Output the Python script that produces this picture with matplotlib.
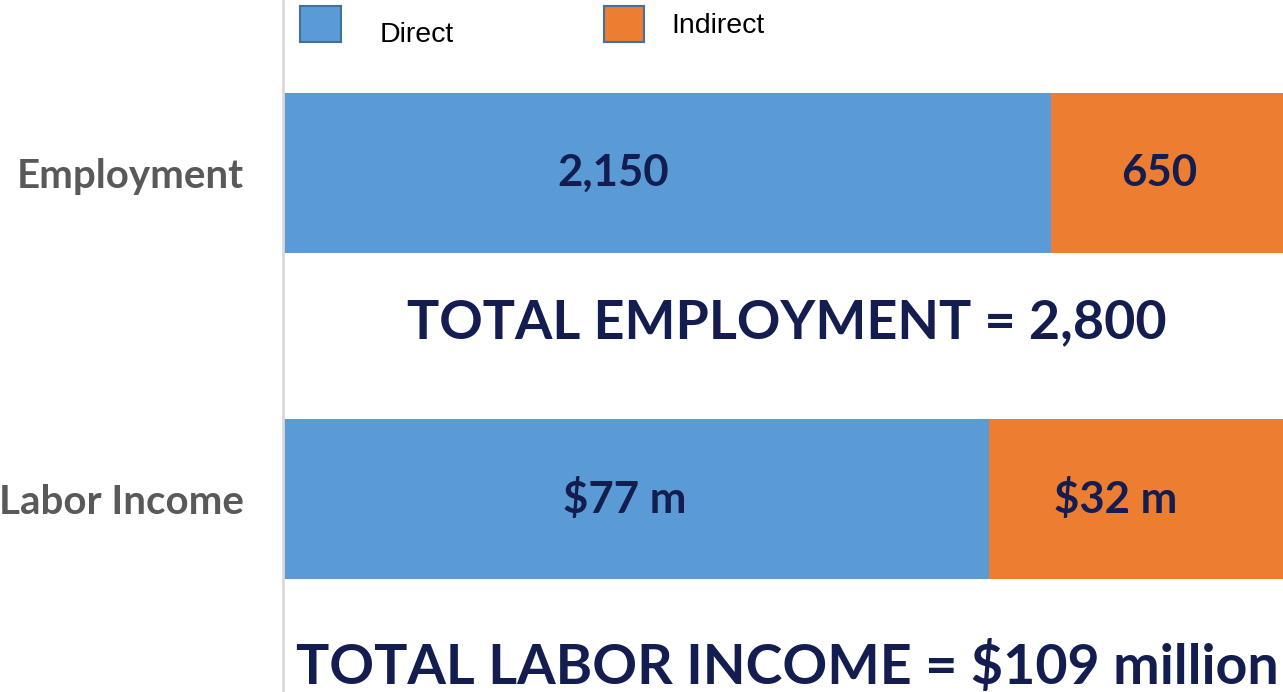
import numpy as np
import matplotlib.pyplot as plt
from matplotlib.patches import Patch

categories = ["Employment", "Labor Income"]
direct = [2150, 77]
indirect = [650, 32]
direct_labels = ["2,150", "$77 m"]
indirect_labels = ["650", "$32 m"]
totals_text = ["TOTAL EMPLOYMENT = 2,800", "TOTAL LABOR INCOME = $109 million"]

blue = "#5B9BD5"
orange = "#ED7D31"
navy = "#141D50"
gray = "#595959"
bold_font = "Lato"

direct = np.array(direct, dtype=float)
indirect = np.array(indirect, dtype=float)
tot = direct + indirect
d_share = direct / tot
i_share = indirect / tot

fig = plt.figure(figsize=(12.83, 6.92), dpi=100)
ax = fig.add_axes([283 / 1283, 0, 1 - 283 / 1283, 1])

y = np.arange(len(categories))
b1 = ax.barh(y, d_share, height=0.49, color=blue)
b2 = ax.barh(y, i_share, left=d_share, height=0.49, color=orange)

# value labels, sitting a little left of each segment's middle like the original
d_shift = [-0.054, -0.011]
i_shift = [-0.008, -0.021]
for i in range(len(categories)):
    ax.text(d_share[i] / 2 + d_shift[i], y[i], direct_labels[i], ha="center", va="center",
            color=navy, fontsize=31.5, fontweight="bold", family=bold_font)
    ax.text(d_share[i] + i_share[i] / 2 + i_shift[i], y[i], indirect_labels[i], ha="center",
            va="center", color=navy, fontsize=31.5, fontweight="bold", family=bold_font)

# totals under each bar
offsets = [0.46, 0.515]
total_sizes = [38.8, 40]
for i, t in enumerate(totals_text):
    ax.text(0.504, i + offsets[i], t, ha="center", va="center", color=navy,
            fontsize=total_sizes[i], fontweight="bold", family=bold_font)

ax.set_xlim(0, 1)
ax.set_ylim(1.592, -0.531)
ax.set_yticks(y)
ax.set_yticklabels(categories, fontsize=29, fontweight="bold",
                   family=bold_font, color=gray)
ax.tick_params(axis="y", length=0, pad=28)
ax.set_xticks([])
for s in ["top", "right", "bottom"]:
    ax.spines[s].set_visible(False)
ax.spines["left"].set_color("#D9D9D9")
ax.spines["left"].set_linewidth(2)

handles = [Patch(facecolor=blue, edgecolor="#41719C", linewidth=1.5, label="Direct"),
           Patch(facecolor=orange, edgecolor="#41719C", linewidth=1.5, label="Indirect")]
leg = fig.legend(handles=handles, loc="upper left", bbox_to_anchor=(289 / 1283, 1.008),
                 ncol=2, frameon=False, prop={"family": "Liberation Sans", "size": 20.5},
                 handlelength=1.42, handleheight=1.55, handletextpad=1.37,
                 columnspacing=5.26, borderaxespad=0)
# nudge legend texts (pixels) the way they sit in the original
leg.get_texts()[0].set_y(-9)
leg.get_texts()[1].set_x(-12)

fig.savefig("out.png", dpi=100)
